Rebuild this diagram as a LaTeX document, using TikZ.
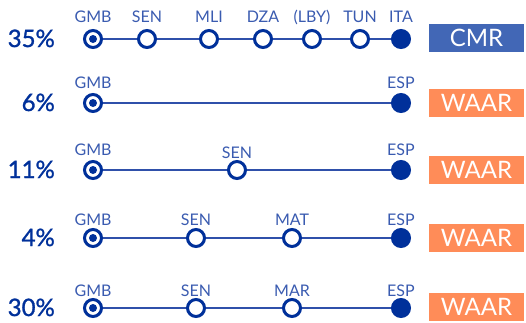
\documentclass[tikz,border=0pt]{standalone}
\usepackage{fontspec}
\setmainfont{Lato}
\newfontfamily\pctfont[FakeBold=1.2]{Lato}
\definecolor{navy}{HTML}{00309A}
\definecolor{linec}{HTML}{2F50AA}
\definecolor{lblc}{HTML}{3A5BB0}
\definecolor{cmrc}{HTML}{4267B6}
\definecolor{waarc}{HTML}{FF8C58}
\tikzset{
  stopo/.style={circle,draw=navy,line width=3pt,fill=white,minimum size=17pt,inner sep=0pt},
  stops/.style={stopo,path picture={\fill[navy] (path picture bounding box.center) circle (4pt);}},
  stope/.style={circle,draw=navy,line width=3pt,fill=navy,minimum size=17pt,inner sep=0pt},
  conn/.style={draw=linec,line width=2pt},
  lbl/.style={anchor=base,text=lblc,inner sep=0pt,font=\fontsize{16}{16}\selectfont},
  pct/.style={anchor=base east,text=navy,inner sep=0pt,font=\pctfont\fontsize{24}{24}\selectfont},
  tag/.style={anchor=center,text=white,inner sep=0pt,minimum width=95pt,minimum height=28pt,font=\fontsize{24}{24}\selectfont},
}
\begin{document}
\begin{tikzpicture}[x=1pt,y=-1pt]
\useasboundingbox (0,0) rectangle (526,322);
% Row 1
\node[pct] (p1) at (55,47) {35\%};
\node[stops] (r1a) at (93,39) {};
\node[stopo] (r1b) at (147,39) {};
\node[stopo] (r1c) at (209,39) {};
\node[stopo] (r1d) at (263,39) {};
\node[stopo] (r1e) at (312,39) {};
\node[stopo] (r1f) at (360,39) {};
\node[stope] (r1g) at (401,39) {};
\draw[conn] (r1a) -- (r1b) (r1b) -- (r1c) (r1c) -- (r1d) (r1d) -- (r1e) (r1e) -- (r1f) (r1f) -- (r1g);
\node[lbl] (l1a) at (93,22) {GMB};
\node[lbl] (l1b) at (147,22) {SEN};
\node[lbl] (l1c) at (209,22) {MLI};
\node[lbl] (l1d) at (263,22) {DZA};
\node[lbl] (l1e) at (312,22) {(LBY)};
\node[lbl] (l1f) at (360,22) {TUN};
\node[lbl] (l1g) at (401,22) {ITA};
\node[tag,fill=cmrc] (t1) at (476.5,38) {CMR};
% Row 2
\node[pct] (p2) at (55,111) {6\%};
\node[stops] (r2a) at (93,103) {};
\node[stope] (r2b) at (401,103) {};
\draw[conn] (r2a) -- (r2b);
\node[lbl] (l2a) at (93,88) {GMB};
\node[lbl] (l2b) at (401,88) {ESP};
\node[tag,fill=waarc] (t2) at (476.5,103) {WAAR};
% Row 3
\node[pct] (p3) at (55,178) {11\%};
\node[stops] (r3a) at (93,170) {};
\node[stopo] (r3b) at (237,170) {};
\node[stope] (r3c) at (401,170) {};
\draw[conn] (r3a) -- (r3b) (r3b) -- (r3c);
\node[lbl] (l3a) at (93,155) {GMB};
\node[lbl] (l3b) at (237,158) {SEN};
\node[lbl] (l3c) at (401,155) {ESP};
\node[tag,fill=waarc] (t3) at (476.5,170) {WAAR};
% Row 4
\node[pct] (p4) at (55,246) {4\%};
\node[stops] (r4a) at (93,238) {};
\node[stopo] (r4b) at (196,238) {};
\node[stopo] (r4c) at (292,238) {};
\node[stope] (r4d) at (401,238) {};
\draw[conn] (r4a) -- (r4b) (r4b) -- (r4c) (r4c) -- (r4d);
\node[lbl] (l4a) at (93,225) {GMB};
\node[lbl] (l4b) at (196,225) {SEN};
\node[lbl] (l4c) at (292,225) {MAT};
\node[lbl] (l4d) at (401,225) {ESP};
\node[tag,fill=waarc] (t4) at (476.5,237.5) {WAAR};
% Row 5
\node[pct] (p5) at (55,316) {30\%};
\node[stops] (r5a) at (93,308) {};
\node[stopo] (r5b) at (196,308) {};
\node[stopo] (r5c) at (292,308) {};
\node[stope] (r5d) at (401,308) {};
\draw[conn] (r5a) -- (r5b) (r5b) -- (r5c) (r5c) -- (r5d);
\node[lbl] (l5a) at (93,296) {GMB};
\node[lbl] (l5b) at (196,296) {SEN};
\node[lbl] (l5c) at (292,296) {MAR};
\node[lbl] (l5d) at (401,296) {ESP};
\node[tag,fill=waarc] (t5) at (476.5,307) {WAAR};
\end{tikzpicture}
\end{document}
